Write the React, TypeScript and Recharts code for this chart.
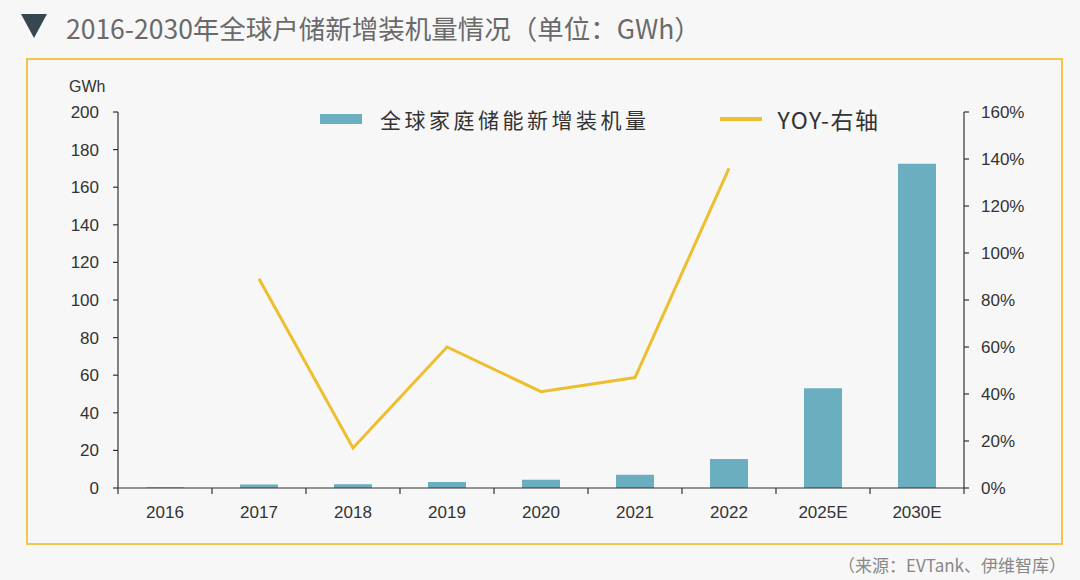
import { Bar, ComposedChart, Line, XAxis, YAxis } from "recharts";

const categories = ["2016", "2017", "2018", "2019", "2020", "2021", "2022", "2025E", "2030E"];
const installed = [0.4, 1.8, 2.0, 3.2, 4.4, 7.1, 15.4, 53, 172.5];
const yoy = [null, 89, 17, 60, 41, 47, 136, null, null];
const leftTicks = [0, 20, 40, 60, 80, 100, 120, 140, 160, 180, 200];
const rightTicks = [0, 20, 40, 60, 80, 100, 120, 140, 160];

const title = "2016-2030年全球户储新增装机量情况（单位：GWh）";
const barName = "全球家庭储能新增装机量";
const lineName = "YOY-右轴";
const source = "（来源：EVTank、伊维智库）";

const BAR_COLOR = "#6AAEBF";
const LINE_COLOR = "#EDBE2E";
const AXIS_COLOR = "#333";
const cjk = "'Noto Sans CJK SC', 'Noto Sans', sans-serif";
const latin = "'Liberation Sans', Arial, sans-serif";

const data = categories.map((c, i) => ({
  name: c,
  installed: installed[i],
  yoy: yoy[i],
}));

const CHART_W = 1080;
const CHART_H = 580;
const margin = { top: 112, right: 56, left: 58, bottom: 62 };
const yAxisW = 60;
const halfBand = (CHART_W - margin.left - margin.right - 2 * yAxisW) / categories.length / 2;

// ticks sit between categories, labels at band centres
const XTick = (props: any) => {
  const { x, y, payload, index } = props;
  const last = index === categories.length - 1;
  return (
    <g>
      <line x1={x - halfBand} x2={x - halfBand} y1={y - 8} y2={y - 2} stroke={AXIS_COLOR} strokeWidth={1.2} />
      {last && (
        <line x1={x + halfBand} x2={x + halfBand} y1={y - 8} y2={y - 2} stroke={AXIS_COLOR} strokeWidth={1.2} />
      )}
      <text x={x} y={y + 22} textAnchor="middle" fill="#333" fontSize={17} fontFamily={latin}>
        {payload.value}
      </text>
    </g>
  );
};

export default function App() {
  return (
    <div
      style={{
        position: "absolute",
        left: 0,
        top: 0,
        width: CHART_W,
        height: CHART_H,
        background: "#f7f7f7",
        overflow: "hidden",
      }}
    >
      {/* title */}
      <div
        style={{
          position: "absolute",
          left: 21,
          top: 14,
          width: 0,
          height: 0,
          borderLeft: "13px solid transparent",
          borderRight: "13px solid transparent",
          borderTop: "24px solid #37474F",
        }}
      />
      <div
        style={{
          position: "absolute",
          left: 66,
          top: 8,
          fontSize: 26.5,
          color: "#6a6a6a",
          fontFamily: cjk,
          whiteSpace: "nowrap",
        }}
      >
        {title}
      </div>

      {/* frame */}
      <div
        style={{
          position: "absolute",
          left: 26,
          top: 58,
          width: 1037,
          height: 487,
          border: "2px solid #F3C54A",
          boxSizing: "border-box",
        }}
      />

      <div style={{ position: "absolute", left: 0, top: 0 }}>
        <ComposedChart width={CHART_W} height={CHART_H} data={data} margin={margin}>
          <XAxis
            dataKey="name"
            height={30}
            axisLine={{ stroke: AXIS_COLOR, strokeWidth: 1.2 }}
            tickLine={false}
            tick={<XTick />}
            interval={0}
          />
          <YAxis
            yAxisId="left"
            width={yAxisW}
            domain={[0, 200]}
            ticks={leftTicks}
            interval={0}
            axisLine={{ stroke: AXIS_COLOR, strokeWidth: 1.2 }}
            tickLine={{ stroke: AXIS_COLOR, strokeWidth: 1.2 }}
            tickSize={5}
            tickMargin={14}
            tick={{ fill: "#333", fontSize: 17, fontFamily: latin }}
          />
          <YAxis
            yAxisId="right"
            orientation="right"
            width={yAxisW}
            domain={[0, 160]}
            ticks={rightTicks}
            interval={0}
            axisLine={{ stroke: AXIS_COLOR, strokeWidth: 1.2 }}
            tickLine={{ stroke: AXIS_COLOR, strokeWidth: 1.2 }}
            tickSize={5}
            tickMargin={12}
            tickFormatter={(v) => `${v}%`}
            tick={{ fill: "#333", fontSize: 17, fontFamily: latin }}
          />
          <Bar
            yAxisId="left"
            dataKey="installed"
            fill={BAR_COLOR}
            barSize={38}
            isAnimationActive={false}
          />
          <Line
            yAxisId="right"
            dataKey="yoy"
            stroke={LINE_COLOR}
            strokeWidth={3}
            dot={false}
            type="linear"
            connectNulls={false}
            isAnimationActive={false}
          />
        </ComposedChart>
      </div>

      {/* unit label */}
      <div
        style={{
          position: "absolute",
          left: 69,
          top: 78,
          fontSize: 16,
          color: "#333",
          fontFamily: latin,
        }}
      >
        GWh
      </div>

      {/* legend */}
      <div
        style={{
          position: "absolute",
          left: 320,
          top: 102,
          display: "flex",
          alignItems: "center",
          fontFamily: cjk,
          color: "#333",
          fontSize: 21,
          whiteSpace: "nowrap",
        }}
      >
        <span style={{ display: "inline-block", width: 42, height: 10, background: BAR_COLOR, marginRight: 18 }} />
        <span style={{ letterSpacing: 3.5 }}>{barName}</span>
        <span
          style={{
            display: "inline-block",
            width: 42,
            height: 4,
            background: LINE_COLOR,
            marginLeft: 70,
            marginRight: 16,
          }}
        />
        <span style={{ fontSize: 23, letterSpacing: 1.5 }}>{lineName}</span>
      </div>

      {/* source */}
      <div
        style={{
          position: "absolute",
          right: 14,
          top: 552,
          fontSize: 17,
          color: "#888",
          fontFamily: cjk,
          whiteSpace: "nowrap",
        }}
      >
        {source}
      </div>
    </div>
  );
}
